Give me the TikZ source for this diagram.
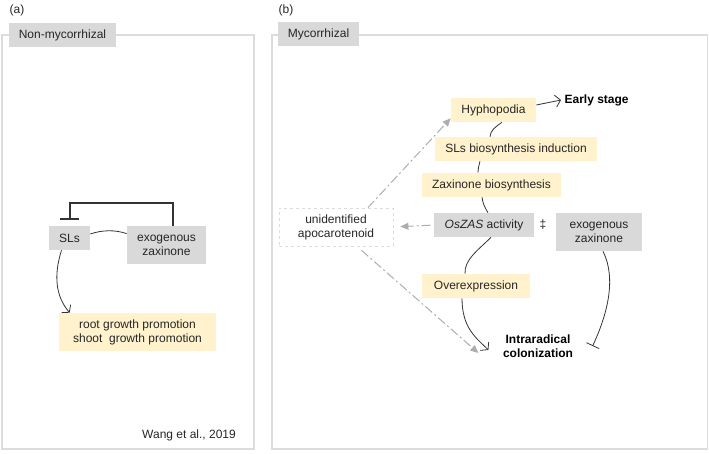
\documentclass[tikz,border=0pt]{standalone}
\usepackage{fontspec}
\setmainfont{Liberation Sans}
\usetikzlibrary{arrows.meta}

\definecolor{boxgrey}{HTML}{D9D9D9}
\definecolor{boxyellow}{HTML}{FFF2CC}
\definecolor{framegrey}{HTML}{DCDCDC}
\definecolor{hintgrey}{HTML}{ADADAD}

\begin{document}
\begin{tikzpicture}[x=1pt,y=-1pt,semithick,
    every node/.style={text=black!85,font=\fontsize{12}{14}\selectfont},
    gbox/.style={fill=boxgrey,minimum height=24pt,inner sep=0pt,align=center},
    ybox/.style={fill=boxyellow,minimum height=24pt,inner sep=0pt,align=center},
    frame/.style={draw=framegrey,line width=1.5pt},
    bold/.style={font=\fontsize{12}{14}\selectfont\bfseries,text=black},
    link/.style={line width=0.8pt,black!80},
    promo/.style={link,-{Straight Barb[length=5pt,width=12pt]}},
    inhib/.style={link,-{Bar[width=14pt]}},
    hint/.style={hintgrey,line width=1pt,dash pattern=on 9pt off 3pt on 2pt off 3pt,-{Triangle[length=8pt,width=7pt]}}]
    \useasboundingbox (0,0) rectangle (709,453);
    \draw[frame] (2,35) rectangle (254,449);
    \draw[frame] (272,35) rectangle (707.5,449);
    \node (labA) at (17,10) {(a)};
    \node (labB) at (286,10) {(b)};
    \node (tabA) at (62.5,35) [gbox,minimum width=107pt] {Non-mycorrhizal};
    \node (tabB) at (318.5,34) [gbox,minimum width=81pt] {Mycorrhizal};
    \node (SLs) at (69.5,238) [gbox,minimum width=41pt] {SLs};
    \node (exoA) at (166.5,245) [gbox,minimum width=79pt,minimum height=38pt] {exogenous\\zaxinone};
    \node (growth) at (137.5,332) [ybox,minimum width=157pt,minimum height=38pt] {root growth promotion\\shoot\ \ growth promotion};
    \node (cite) at (189,435) {Wang et al., 2019};
    \draw[link,line width=2pt,-{Bar[width=19pt]}] ([xshift=6.5pt]exoA.north) -- ++(0,-23) -| ([yshift=6pt]SLs.north);
    \draw[link] (SLs.11) .. controls +(12,-4) and +(-12,-4) .. (exoA.164);
    \draw[promo] ([xshift=-8pt]SLs.south) .. controls +(-8,25) and +(-14,-16) .. ([xshift=11pt]growth.north west);
    \node (Hyph) at (493.5,110) [ybox,minimum width=85pt] {Hyphopodia};
    \node (early) at (561,100) [bold,anchor=west] {Early stage};
    \node (SLsInd) at (516,149) [ybox,minimum width=162pt] {SLs biosynthesis induction};
    \node (ZaxBio) at (491.5,185) [ybox,minimum width=139pt] {Zaxinone biosynthesis};
    \node (OsZAS) at (484,225) [gbox,minimum width=100pt] {\textit{OsZAS} activity};
    \node (ddag) at (543,225) {‡};
    \node (exoB) at (599,232) [gbox,minimum width=86pt,minimum height=38pt] {exogenous\\zaxinone};
    \node (unid) at (336,227) [draw=framegrey,dashed,thick,minimum width=114pt,minimum height=38pt,align=center,inner sep=0pt] {unidentified\\apocarotenoid};
    \node (Overexp) at (476,286) [ybox,minimum width=108pt] {Overexpression};
    \node (colon) at (538,346) [bold,align=center] {Intraradical\\colonization};
    \draw[promo] ([yshift=5pt]Hyph.east) -- (early.west);
    \draw[link] ([xshift=8.5pt]Hyph.south) .. controls +(-6,4) and +(0,-6) .. ([xshift=-26pt]SLsInd.north);
    \draw[link] ([xshift=-36pt]SLsInd.south) .. controls +(-1,4) and +(0,-4) .. ([xshift=-13.5pt]ZaxBio.north);
    \draw[link] ([xshift=-9.5pt]ZaxBio.south) .. controls +(1,7) and +(-3,-5) .. ([xshift=4pt]OsZAS.north);
    \draw[link] ([xshift=7pt]OsZAS.south) .. controls +(-12,12) and +(-1,-14) .. ([xshift=-11pt]Overexp.north);
    \draw[promo] ([xshift=-14pt]Overexp.south) .. controls +(0,30) and +(-12,-12) .. ([xshift=-11pt,yshift=-4pt]colon.west);
    \draw[inhib] ([xshift=4pt]exoB.south) .. controls +(14,28) and +(14,-30) .. ([xshift=16pt]colon.east);
    \draw[hint] ([xshift=32pt]unid.north) -- ([yshift=4pt]Hyph.south west);
    \draw[hint,shorten <=3pt,shorten >=7pt] (OsZAS.west) -- (unid.east);
    \draw[hint,shorten <=6pt] ([xshift=21pt]unid.south) -- ([xshift=-21pt,yshift=-7pt]colon.west);
\end{tikzpicture}
\end{document}
